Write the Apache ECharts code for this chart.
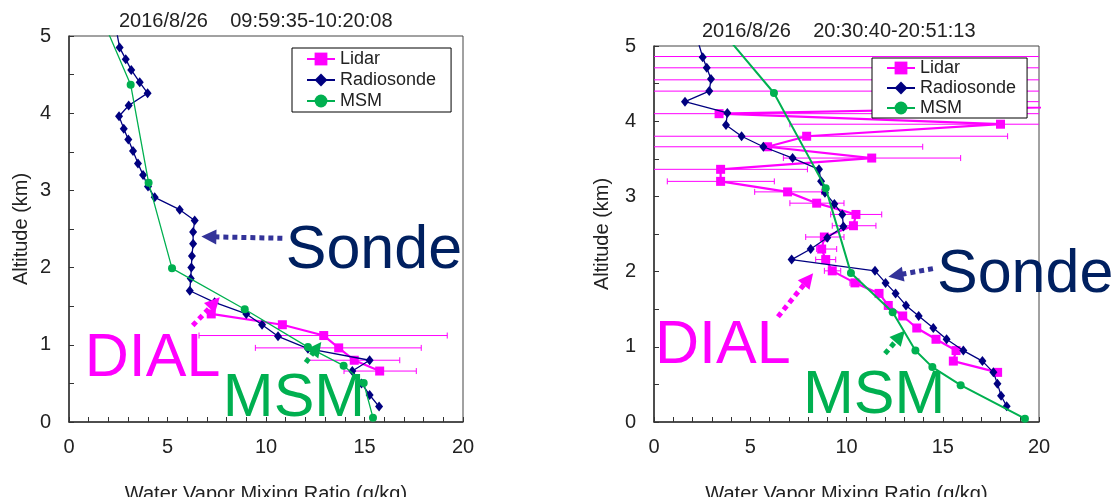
<!DOCTYPE html>
<html>
<head>
<meta charset="utf-8">
<script src="https://cdn.jsdelivr.net/npm/echarts@6/dist/echarts.min.js"></script>
<style>
  html, body { margin: 0; padding: 0; background: #fff; }
  #chart { width: 1117px; height: 497px; }
</style>
</head>
<body>
<div id="chart"></div>
<script>
// [mixing ratio g/kg, altitude km]
var lidarLeft = [[7.22, 1.40], [10.83, 1.26], [12.93, 1.12], [13.69, 0.96], [14.48, 0.80], [15.77, 0.66]];
// [low, high, altitude]
var lidarErrLeft = [[6.60, 19.2, 1.12], [9.46, 17.88, 0.96], [12.13, 16.79, 0.80], [13.96, 17.63, 0.66]];
var sondeLeft = [[2.35, 5.15], [2.57, 4.85], [2.88, 4.70], [3.16, 4.56], [3.59, 4.40], [3.99, 4.26], [3.03, 4.10],
  [2.54, 3.96], [2.78, 3.80], [3.01, 3.66], [3.25, 3.51], [3.50, 3.35], [3.76, 3.20], [4.01, 3.05], [4.35, 2.91],
  [5.62, 2.75], [6.38, 2.61], [6.30, 2.46], [6.30, 2.31], [6.24, 2.15], [6.21, 2.00], [6.18, 1.86], [6.13, 1.70],
  [7.39, 1.55], [9.00, 1.40], [9.80, 1.26], [10.61, 1.11], [12.13, 0.95], [15.26, 0.80], [14.38, 0.66],
  [14.85, 0.50], [15.26, 0.35], [15.74, 0.20]];
var msmLeft = [[1.05, 5.6], [3.13, 4.37], [4.04, 3.10], [5.23, 1.99], [8.92, 1.46], [12.13, 0.97], [13.94, 0.73], [14.96, 0.505], [15.43, 0.056]];

var lidarRight = [[42, 4.86], [33, 4.71], [45, 4.55], [30, 4.40], [36, 4.26], [3.38, 4.10], [18.0, 3.96], [7.93, 3.80],
  [5.90, 3.66], [11.31, 3.51], [3.46, 3.36], [3.46, 3.20], [6.94, 3.06], [8.45, 2.91], [10.49, 2.76], [10.36, 2.61],
  [8.85, 2.46], [8.71, 2.30], [8.92, 2.16], [9.26, 2.01], [10.44, 1.85], [11.69, 1.71], [12.17, 1.55], [12.92, 1.41],
  [13.65, 1.25], [14.65, 1.10], [15.69, 0.95], [15.55, 0.81], [17.85, 0.66]];
var lidarErrRight = [[-20, 80, 4.86], [-20, 80, 4.71], [-20, 80, 4.55], [-20, 80, 4.40], [12, 60, 4.26], [-20, 80, 4.10],
  [7.06, 30, 3.96], [-5, 18.37, 3.80], [-5, 13.96, 3.66], [6.72, 15.93, 3.51], [-2, 7.97, 3.36], [0.69, 6.25, 3.20],
  [5.23, 8.71, 3.06], [7.06, 9.87, 2.91], [9.18, 11.83, 2.76], [9.26, 11.53, 2.61], [7.88, 9.87, 2.46],
  [8.45, 9.49, 2.30], [8.40, 9.44, 2.16], [8.85, 9.70, 2.01], [10.18, 10.70, 1.85]];
var sondeRight = [[2.30, 5.05], [2.53, 4.85], [2.74, 4.71], [2.96, 4.56], [2.87, 4.40], [1.61, 4.26], [3.81, 4.11],
  [3.74, 3.95], [4.55, 3.80], [5.68, 3.66], [7.20, 3.51], [8.57, 3.36], [8.68, 3.20], [8.88, 3.05], [9.37, 2.90],
  [9.78, 2.76], [9.84, 2.60], [9.00, 2.45], [8.14, 2.30], [7.15, 2.16], [11.48, 2.01], [12.03, 1.85], [12.55, 1.71],
  [13.09, 1.55], [13.75, 1.41], [14.51, 1.25], [15.20, 1.10], [16.07, 0.95], [17.06, 0.81], [17.63, 0.66],
  [17.84, 0.51], [18.03, 0.35], [18.32, 0.21]];
var msmRight = [[2.2, 5.6], [6.23, 4.375], [8.92, 3.11], [10.23, 1.98], [12.40, 1.46], [13.58, 0.95], [14.46, 0.73], [15.93, 0.49], [19.27, 0.044]];

var titles = ['2016/8/26    09:59:35-10:20:08', '2016/8/26    20:30:40-20:51:13'];
var seriesNames = ['Lidar', 'Radiosonde', 'MSM'];

// annotation arrows: [tail, arrowhead centre], per panel
var arrowsLeft = { Sonde: [[10.83, 2.38], [7.10, 2.40]], DIAL: [[6.28, 1.25], [7.39, 1.545]], MSM: [[12.02, 0.77], [12.58, 0.96]] };
var arrowsRight = { Sonde: [[14.49, 2.04], [12.56, 1.95]], DIAL: [[6.44, 1.40], [8.02, 1.90]], MSM: [[12.0, 0.91], [12.78, 1.14]] };
// annotation words: [x, altitude] of left edge / vertical middle
var wordsLeft = { Sonde: [11.0, 2.21], DIAL: [0.80, 0.81], MSM: [7.81, 0.29] };
var wordsRight = { Sonde: [14.70, 1.95], DIAL: [0.05, 1.01], MSM: [7.74, 0.35] };

var FONT = "'Liberation Sans', Arial, sans-serif";
var C_LIDAR = '#ff00ff', C_SONDE = '#000080', C_MSM = '#00b050';
var wordColor = { Sonde: '#002060', DIAL: '#ff00ff', MSM: '#00b050' };
var arrowColor = { Sonde: '#333399', DIAL: '#ff00ff', MSM: '#00b050' };

function errRender(params, api) {
  var lo = api.coord([api.value(0), api.value(2)]);
  var hi = api.coord([api.value(1), api.value(2)]);
  var cs = params.coordSys;
  var y = lo[1];
  var x0 = Math.max(lo[0], cs.x), x1 = Math.min(hi[0], cs.x + cs.width);
  var st = { stroke: C_LIDAR, lineWidth: 1 };
  var kids = [{ type: 'line', shape: { x1: x0, y1: y, x2: x1, y2: y }, style: st }];
  if (lo[0] >= cs.x) kids.push({ type: 'line', shape: { x1: lo[0], y1: y - 3, x2: lo[0], y2: y + 3 }, style: st });
  if (hi[0] <= cs.x + cs.width) kids.push({ type: 'line', shape: { x1: hi[0], y1: y - 3, x2: hi[0], y2: y + 3 }, style: st });
  return { type: 'group', children: kids };
}

function arrowLines(arrows) {
  return Object.keys(arrows).map(function (k) {
    return [
      { coord: arrows[k][0], lineStyle: { color: arrowColor[k], width: 5, type: [5, 4], cap: 'butt' }, itemStyle: { color: arrowColor[k] } },
      { coord: arrows[k][1] }
    ];
  });
}

function xAxis(i) {
  return {
    type: 'value', gridIndex: i, min: 0, max: 20, interval: 1,
    name: 'Water Vapor Mixing Ratio (g/kg)', nameLocation: 'middle', nameGap: 62,
    nameTextStyle: { fontSize: 20, color: '#222', fontFamily: FONT },
    axisLine: { show: true, lineStyle: { color: '#333', width: 1.5 } },
    axisTick: { show: true, inside: true, length: 5, lineStyle: { color: '#333' } },
    axisLabel: { fontSize: 20, color: '#222', fontFamily: FONT, margin: 15, formatter: function (v) { return v % 5 === 0 ? v : ''; } },
    splitLine: { show: false }
  };
}
function yAxis(i, gap) {
  return {
    type: 'value', gridIndex: i, min: 0, max: 5, interval: 0.5,
    name: 'Altitude (km)', nameLocation: 'middle', nameGap: gap,
    nameTextStyle: { fontSize: 20, color: '#222', fontFamily: FONT },
    axisLine: { show: true, lineStyle: { color: '#333', width: 1.5 } },
    axisTick: { show: true, inside: true, length: 5, lineStyle: { color: '#333' } },
    axisLabel: { fontSize: 20, color: '#222', fontFamily: FONT, margin: 18, formatter: function (v) { return Number.isInteger(v) ? v : ''; } },
    splitLine: { show: false }
  };
}
function legend(left, top, pad, gap) {
  return {
    data: seriesNames, orient: 'vertical', left: left, top: top,
    backgroundColor: '#fff', borderColor: '#000', borderWidth: 1, borderRadius: 0,
    padding: pad, itemGap: gap, itemWidth: 28, itemHeight: 16,
    textStyle: { fontSize: 18, color: '#222', fontFamily: FONT }, selectedMode: false
  };
}
function panelSeries(i, lidar, err, sonde, msm, msmWidth, arrows) {
  return [
    { name: 'Lidar err', type: 'custom', xAxisIndex: i, yAxisIndex: i, renderItem: errRender, data: err, encode: { x: [0, 1], y: 2 }, silent: true, z: 1 },
    { name: 'Lidar', type: 'line', xAxisIndex: i, yAxisIndex: i, data: lidar, symbol: 'rect', symbolSize: 9,
      lineStyle: { color: C_LIDAR, width: 2.2 }, itemStyle: { color: C_LIDAR }, z: 2 },
    { name: 'Radiosonde', type: 'line', xAxisIndex: i, yAxisIndex: i, data: sonde, symbol: 'diamond', symbolSize: [8, 10],
      lineStyle: { color: C_SONDE, width: 1.3 }, itemStyle: { color: C_SONDE }, z: 3,
      markLine: { silent: true, symbol: ['none', 'triangle'], symbolSize: [15, 15], label: { show: false }, animation: false, data: arrowLines(arrows) } },
    { name: 'MSM', type: 'line', xAxisIndex: i, yAxisIndex: i, data: msm, symbol: 'circle', symbolSize: 8,
      lineStyle: { color: C_MSM, width: msmWidth }, itemStyle: { color: C_MSM }, z: 4 }
  ];
}

var chart = echarts.init(document.getElementById('chart'));
chart.setOption({
  animation: false,
  textStyle: { fontFamily: FONT },
  title: [
    { text: titles[0], left: 119, top: 11, padding: 0, textStyle: { fontSize: 20, fontWeight: 'normal', color: '#222', fontFamily: FONT } },
    { text: titles[1], left: 702, top: 21, padding: 0, textStyle: { fontSize: 20, fontWeight: 'normal', color: '#222', fontFamily: FONT } }
  ],
  legend: [legend(292, 48, [2, 15, 2, 14], 3), legend(872, 58, [1, 11, 1, 14], 2)],
  grid: [
    { left: 69, top: 36, width: 394, height: 386, outerBoundsMode: 'none', show: true, borderColor: '#444', borderWidth: 1, backgroundColor: 'transparent' },
    { left: 654, top: 46, width: 385, height: 376, outerBoundsMode: 'none', show: true, borderColor: '#444', borderWidth: 1, backgroundColor: 'transparent' }
  ],
  xAxis: [xAxis(0), xAxis(1)],
  yAxis: [yAxis(0, 38), yAxis(1, 42)],
  series: panelSeries(0, lidarLeft, lidarErrLeft, sondeLeft, msmLeft, 1.3, arrowsLeft)
    .concat(panelSeries(1, lidarRight, lidarErrRight, sondeRight, msmRight, 2, arrowsRight))
});

function words(gridIndex, w) {
  return Object.keys(w).map(function (k) {
    var p = chart.convertToPixel({ gridIndex: gridIndex }, w[k]);
    return { type: 'text', x: p[0], y: p[1], z: 10, silent: true,
      style: { text: k, fill: wordColor[k], fontSize: 61, fontFamily: FONT, align: 'left', verticalAlign: 'middle' } };
  });
}
chart.setOption({ graphic: words(0, wordsLeft).concat(words(1, wordsRight)) });
</script>
</body>
</html>
